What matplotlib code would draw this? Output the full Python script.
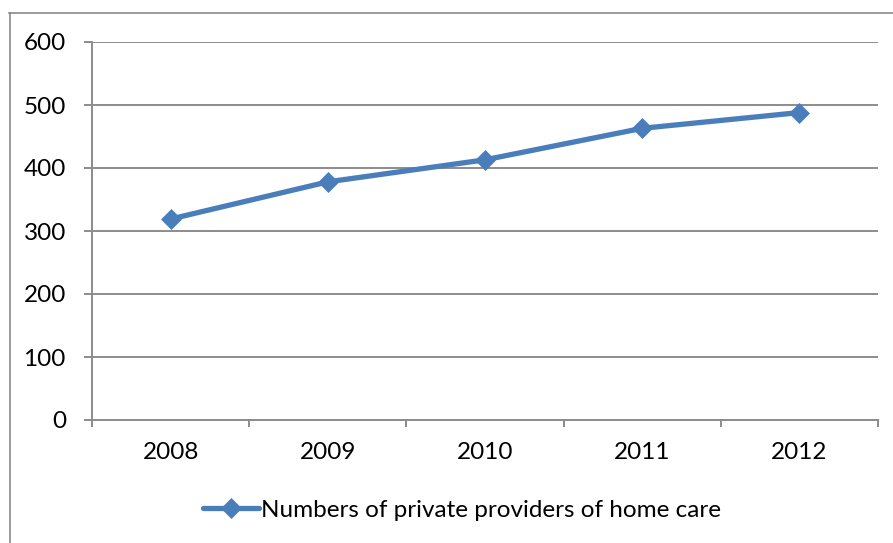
import matplotlib
matplotlib.use('Agg')
import matplotlib.pyplot as plt
from matplotlib.lines import Line2D

years = ['2008', '2009', '2010', '2011', '2012']
providers = [319, 378, 413, 463, 488]
y_ticks = [0, 100, 200, 300, 400, 500, 600]
series_name = 'Numbers of private providers of home care'

plt.rcParams['font.family'] = ['Lato', 'DejaVu Sans']

W, H = 893, 543
fig = plt.figure(figsize=(W / 100, H / 100), dpi=100)
ax = fig.add_axes([92 / W, 1 - 420 / H, (878 - 92) / W, (420 - 42) / H])

grid_col = '#8c8c8c'
line_col = '#4a7ebb'
fs = 17.5

x = list(range(len(years)))
ax.plot(x, providers, color=line_col, linewidth=3.8, marker='D', markersize=10.5,
        markerfacecolor=line_col, markeredgecolor=line_col, markeredgewidth=0.5,
        label=series_name, solid_capstyle='round', zorder=3)

ax.set_xlim(-0.5, len(years) - 0.5)
ax.set_ylim(0, 600)
ax.set_yticks(y_ticks)
ax.set_yticklabels([str(v) for v in y_ticks], fontsize=fs)
ax.yaxis.grid(True, color=grid_col, linewidth=1.4)
ax.set_axisbelow(True)

ax.set_xticks(x)
ax.set_xticklabels(years, fontsize=fs)
ax.set_xticks([i - 0.5 for i in range(len(years) + 1)], minor=True)
ax.tick_params(axis='x', which='major', length=0, pad=16)
ax.tick_params(axis='x', which='minor', length=5, width=1.4, color=grid_col, direction='out')
ax.tick_params(axis='y', length=5.8, width=1.4, color=grid_col, direction='out', pad=13)

for s in ['top', 'right']:
    ax.spines[s].set_visible(False)
for s in ['left', 'bottom']:
    ax.spines[s].set_color(grid_col)
    ax.spines[s].set_linewidth(1.4)

# outer chart frame (only left and top edges are inside the crop)
fig.add_artist(Line2D([9.5 / W, 9.5 / W], [0, 1 - 13 / H], transform=fig.transFigure,
                      color='#8a8a8a', linewidth=1.2))
fig.add_artist(Line2D([9 / W, 1], [1 - 13 / H, 1 - 13 / H], transform=fig.transFigure,
                      color='#8a8a8a', linewidth=1.2))

fig.legend(loc='center', bbox_to_anchor=(462 / W, 1 - 510 / H), frameon=False,
           fontsize=fs, handlelength=2.3, handletextpad=0.1, borderpad=0)

fig.savefig('out.png', dpi=100)
